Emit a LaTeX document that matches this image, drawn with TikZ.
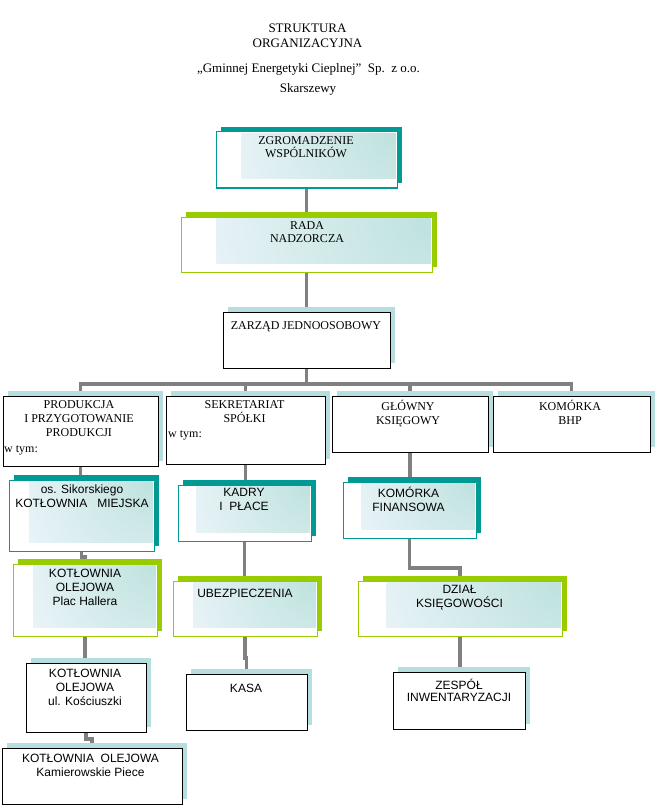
\documentclass[tikz,border=0pt]{standalone}
\usepackage{fontspec}
\setmainfont{Liberation Serif}
\setsansfont{Liberation Sans}
\usetikzlibrary{calc}
\pgfdeclarelayer{conn}
\pgfdeclarelayer{shad}
\pgfsetlayers{conn,shad,main}
\definecolor{cteal}{RGB}{0,153,148}
\definecolor{clime}{RGB}{153,204,0}
\definecolor{cshadow}{RGB}{182,222,222}
\definecolor{cconn}{RGB}{128,128,128}
\definecolor{cgrad}{RGB}{190,226,222}
\definecolor{cgradout}{RGB}{240,246,252}
\tikzset{
  frontbox/.style={rectangle, fill=white, line width=1pt, inner sep=0pt, outer sep=0pt},
  conn/.style={draw=cconn, line width=3.5pt, line join=miter},
  sertxt/.style={anchor=north, inner sep=0pt, align=center, font=\fontsize{12}{14}\selectfont, execute at begin node={\rule{0pt}{12pt}}},
  sanstxt/.style={anchor=north, inner sep=0pt, align=center, font=\sffamily\fontsize{12}{14}\selectfont, execute at begin node={\rule{0pt}{12pt}}},
  plaintxt/.style={anchor=base west, inner sep=0pt, font=\fontsize{12}{14}\selectfont},
  titletxt/.style={anchor=base, inner sep=0pt, font=\fontsize{13}{15}\selectfont}
}
% #1 name, #2 x1, #3 y1, #4 x2, #5 y2, #6 border colour, #7 shadow colour
\newcommand\orgbox[7]{%
  \node[frontbox, draw=#6, minimum width={#4-#2}, minimum height={#5-#3}, anchor=north west] (#1) at (#2,#3) {};
  \begin{pgfonlayer}{shad}
    \fill[#7] ([shift={(5,-5)}]#1.south west) rectangle ([shift={(5,-5)}]#1.north east);
  \end{pgfonlayer}
}
\newcommand\gradfill[1]{%
  \begin{scope}
    \clip let \p1=(#1.north west), \p2=(#1.south east) in
      ({\x1+0.14*(\x2-\x1)},{\y1-1.2pt}) rectangle ({\x2-1.2pt},{\y2+9pt});
    \shade[inner color=cgrad, outer color=cgradout] let \p1=(#1.north west), \p2=(#1.south east) in
      (\x2,\y1) circle ({1.1*(\x2-\x1)});
  \end{scope}
}
\begin{document}
\begin{tikzpicture}[x=1pt,y=-1pt]
\useasboundingbox (0,0) rectangle (655,805);
\begin{pgfonlayer}{conn}
\fill[white] (0,0) rectangle (655,805);
\end{pgfonlayer}

% boxes
\orgbox{zgr}{216}{132}{397}{188}{cteal}{cteal}
\orgbox{rada}{181}{217}{432}{272}{clime}{clime}
\orgbox{zarz}{223}{312}{390}{368}{black}{cshadow}
\orgbox{prod}{3}{396}{158}{466}{black}{cshadow}
\orgbox{sekr}{166}{396}{325}{464}{black}{cshadow}
\orgbox{glow}{332}{396}{488}{452}{black}{cshadow}
\orgbox{bhp}{493}{396}{650}{452}{black}{cshadow}
\orgbox{sik}{9}{480}{154}{551}{cteal}{cteal}
\orgbox{hall}{13}{564}{157}{636}{clime}{clime}
\orgbox{kadry}{178}{485}{311}{541}{cteal}{cteal}
\orgbox{ubez}{173}{581}{317}{636}{clime}{clime}
\orgbox{fin}{343}{482}{476}{538}{cteal}{cteal}
\orgbox{dzial}{358}{581}{562}{636}{clime}{clime}
\orgbox{kosc}{26}{663}{146}{732}{black}{cshadow}
\orgbox{kam}{2}{748}{182}{804}{black}{cshadow}
\orgbox{kasa}{186}{674}{307}{730}{black}{cshadow}
\orgbox{zesp}{393}{672}{525}{729}{black}{cshadow}

\gradfill{zgr}
\gradfill{rada}
\gradfill{sik}
\gradfill{hall}
\gradfill{kadry}
\gradfill{ubez}
\gradfill{fin}
\gradfill{dzial}

% connectors
\coordinate (bus) at (306.5,384);
\begin{pgfonlayer}{conn}
  \draw[conn] (zgr.south) -- (zgr.south |- rada.north);
  \draw[conn] (rada.south) -- (rada.south |- zarz.north);
  \draw[conn] (zarz.south) -- (bus);
  \draw[conn] (prod.north) |- (bus) -| (bhp.north);
  \draw[conn] (sekr.north) -- (sekr.north |- bus);
  \draw[conn] (glow.north) -- (glow.north |- bus);
  \draw[conn] (prod.south) -- (prod.south |- sik.north);
  \draw[conn] (sik.south) -- ++(0,6) -| (hall.north);
  \draw[conn] (hall.south) -- (hall.south |- kosc.north);
  \draw[conn] (kosc.south) -- ++(0,7) -| (kam.north);
  \draw[conn] (sekr.south) -- (sekr.south |- kadry.north);
  \draw[conn] (kadry.south) -- (kadry.south |- ubez.north);
  \draw[conn] (ubez.south) -- ++(0,22) -| (kasa.north);
  \draw[conn] (glow.south) -- (glow.south |- fin.north);
  \draw[conn] (fin.south) -- ++(0,30) -| (dzial.north);
  \draw[conn] (dzial.south) -- (dzial.south |- zesp.north);
\end{pgfonlayer}

% title
\node[titletxt] (t1) at (307.5,33) {STRUKTURA};
\node[titletxt] (t2) at (307.5,48) {ORGANIZACYJNA};
\node[titletxt] (t3) at (308.5,73) {„Gminnej Energetyki Cieplnej”\ \ Sp.\ \ z o.o.};
\node[titletxt] (t4) at (308,93) {Skarszewy};

% texts
\node[sertxt, font=\fontsize{12}{13}\selectfont] (tzgr) at (306,136) {ZGROMADZENIE\\WSPÓLNIKÓW};
\node[sertxt, font=\fontsize{12}{13}\selectfont] (trada) at (307,221) {RADA\\NADZORCZA};
\node[sertxt] (tzarz) at (306,317) {ZARZĄD JEDNOOSOBOWY};
\node[sertxt] (tprod) at (79,400) {PRODUKCJA\\I PRZYGOTOWANIE\\PRODUKCJI};
\node[plaintxt] (wprod) at (4,452) {w tym:};
\node[sertxt] (tsekr) at (244.5,400) {SEKRETARIAT\\SPÓŁKI};
\node[plaintxt] (wsekr) at (168,437) {w tym:};
\node[sertxt] (tglow) at (408,400) {GŁÓWNY\\KSIĘGOWY};
\node[sertxt] (tbhp) at (570,400) {KOMÓRKA\\BHP};
\node[sanstxt] (tsik) at (82,485) {os. Sikorskiego\\KOTŁOWNIA\ \ \ MIEJSKA};
\node[sanstxt] (thall) at (85,569) {KOTŁOWNIA\\OLEJOWA\\Plac Hallera};
\node[sanstxt] (tkadry) at (244,488) {KADRY\\I\ \ PŁACE};
\node[sanstxt] (tubez) at (245,585) {UBEZPIECZENIA};
\node[sanstxt] (tfin) at (408.5,487) {KOMÓRKA\\FINANSOWA};
\node[sanstxt] (tdzial) at (459.5,585) {DZIAŁ\\KSIĘGOWOŚCI};
\node[sanstxt] (tkosc) at (85,669) {KOTŁOWNIA\\OLEJOWA\\ul. Kościuszki};
\node[sanstxt] (tkam) at (90.5,754) {KOTŁOWNIA\ \ OLEJOWA\\Kamierowskie Piece};
\node[sanstxt] (tkasa) at (246,680) {KASA};
\node[sanstxt, font=\sffamily\fontsize{12}{12}\selectfont] (tzesp) at (459,679) {ZESPÓŁ\\INWENTARYZACJI};
\end{tikzpicture}
\end{document}
